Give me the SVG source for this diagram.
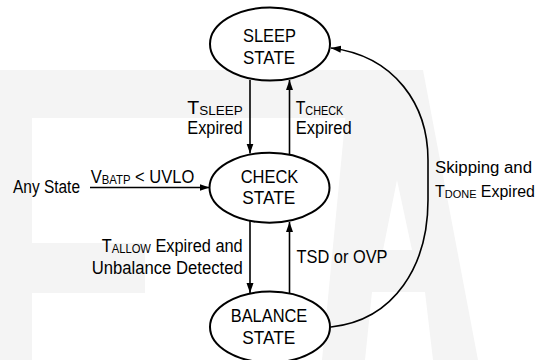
<svg xmlns="http://www.w3.org/2000/svg" width="537" height="360" viewBox="0 0 537 360">
<style>
  .wm { fill: #f4f4f4; stroke: none; }
  .node { fill: #ffffff; stroke: #000000; stroke-width: 2; }
  .edge { fill: none; stroke: #000000; stroke-width: 1.6; }
  text { font-family: "Liberation Sans", Arial, sans-serif; font-size: 17.5px; fill: #000000; }
  .sub { font-size: 12px; }
  .r { font-size: 16px; }
  .r .sub { font-size: 11px; }
</style>
<defs>
  <marker id="arrow" markerUnits="userSpaceOnUse" markerWidth="11" markerHeight="8" refX="10" refY="4" orient="auto">
    <path d="M0,0.5 L10,4 L0,7.5 Z" fill="#000000"/>
  </marker>
</defs>
<rect x="0" y="0" width="537" height="360" fill="#ffffff"/>
<g id="watermark">
  <rect class="wm" x="0" y="70" width="32" height="290"/>
  <rect class="wm" x="0" y="70" width="423" height="48"/>
  <rect class="wm" x="0" y="243" width="145" height="50"/>
  <path class="wm" fill-rule="evenodd" d="M350,70 L423,70 L478,360 L433,360 L425,292 L372,292 L365,360 L322,360 Z M397,180 L412,250 L383,250 Z"/>
</g>
<g id="connectors">
  <line class="edge" x1="250" y1="80" x2="250" y2="153.5" marker-end="url(#arrow)"/>
  <line class="edge" x1="289.5" y1="154" x2="289.5" y2="80" marker-end="url(#arrow)"/>
  <line class="edge" x1="250" y1="221" x2="250" y2="293" marker-end="url(#arrow)"/>
  <line class="edge" x1="289.5" y1="293" x2="289.5" y2="222" marker-end="url(#arrow)"/>
  <line class="edge" x1="90" y1="187.5" x2="209.5" y2="187.5" marker-end="url(#arrow)"/>
  <path class="edge" d="M331,327 C395,320 428,265 428,200 L428,160 C428,105 395,56 331,48" marker-end="url(#arrow)"/>
  <text x="187.3" y="114" textLength="55.4" lengthAdjust="spacingAndGlyphs">T<tspan class="sub" dy="0.5">SLEEP</tspan></text>
  <text x="187.3" y="134" textLength="55.4" lengthAdjust="spacingAndGlyphs">Expired</text>
  <text x="295.7" y="114" textLength="47.6" lengthAdjust="spacingAndGlyphs">T<tspan class="sub" dy="0.5">CHECK</tspan></text>
  <text x="295.7" y="134" textLength="56" lengthAdjust="spacingAndGlyphs">Expired</text>
  <text x="90.7" y="182.5" textLength="103.6" lengthAdjust="spacingAndGlyphs">V<tspan class="sub" dy="1">BATP</tspan><tspan dy="-1"> &lt; UVLO</tspan></text>
  <text x="101.7" y="251.7" textLength="141" lengthAdjust="spacingAndGlyphs">T<tspan class="sub" dy="1">ALLOW</tspan><tspan dy="-1"> Expired and</tspan></text>
  <text x="91.7" y="273.5" textLength="151" lengthAdjust="spacingAndGlyphs">Unbalance Detected</text>
  <text x="296.5" y="263.3" textLength="91" lengthAdjust="spacingAndGlyphs">TSD or OVP</text>
  <text class="r" x="435" y="173.3" textLength="97" lengthAdjust="spacingAndGlyphs">Skipping and</text>
  <text class="r" x="435" y="196.7" textLength="100" lengthAdjust="spacingAndGlyphs">T<tspan class="sub" dy="1.5">DONE</tspan><tspan dy="-1.5"> Expired</tspan></text>
</g>
<g id="any-state">
  <text x="13" y="193.3" textLength="67" lengthAdjust="spacingAndGlyphs">Any State</text>
</g>
<g id="sleep-state">
  <ellipse class="node" cx="270" cy="44" rx="60" ry="36.5"/>
  <text x="243" y="41.7" textLength="53" lengthAdjust="spacingAndGlyphs">SLEEP</text>
  <text x="243" y="64.3" textLength="52" lengthAdjust="spacingAndGlyphs">STATE</text>
</g>
<g id="check-state">
  <ellipse class="node" cx="269.5" cy="187.7" rx="60" ry="35"/>
  <text x="240.7" y="183.3" textLength="57.6" lengthAdjust="spacingAndGlyphs">CHECK</text>
  <text x="242.3" y="204.3" textLength="53" lengthAdjust="spacingAndGlyphs">STATE</text>
</g>
<g id="balance-state">
  <ellipse class="node" cx="270" cy="327" rx="60" ry="35.5"/>
  <text x="230.7" y="321.7" textLength="76.6" lengthAdjust="spacingAndGlyphs">BALANCE</text>
  <text x="242.3" y="344.3" textLength="53" lengthAdjust="spacingAndGlyphs">STATE</text>
</g>
</svg>
